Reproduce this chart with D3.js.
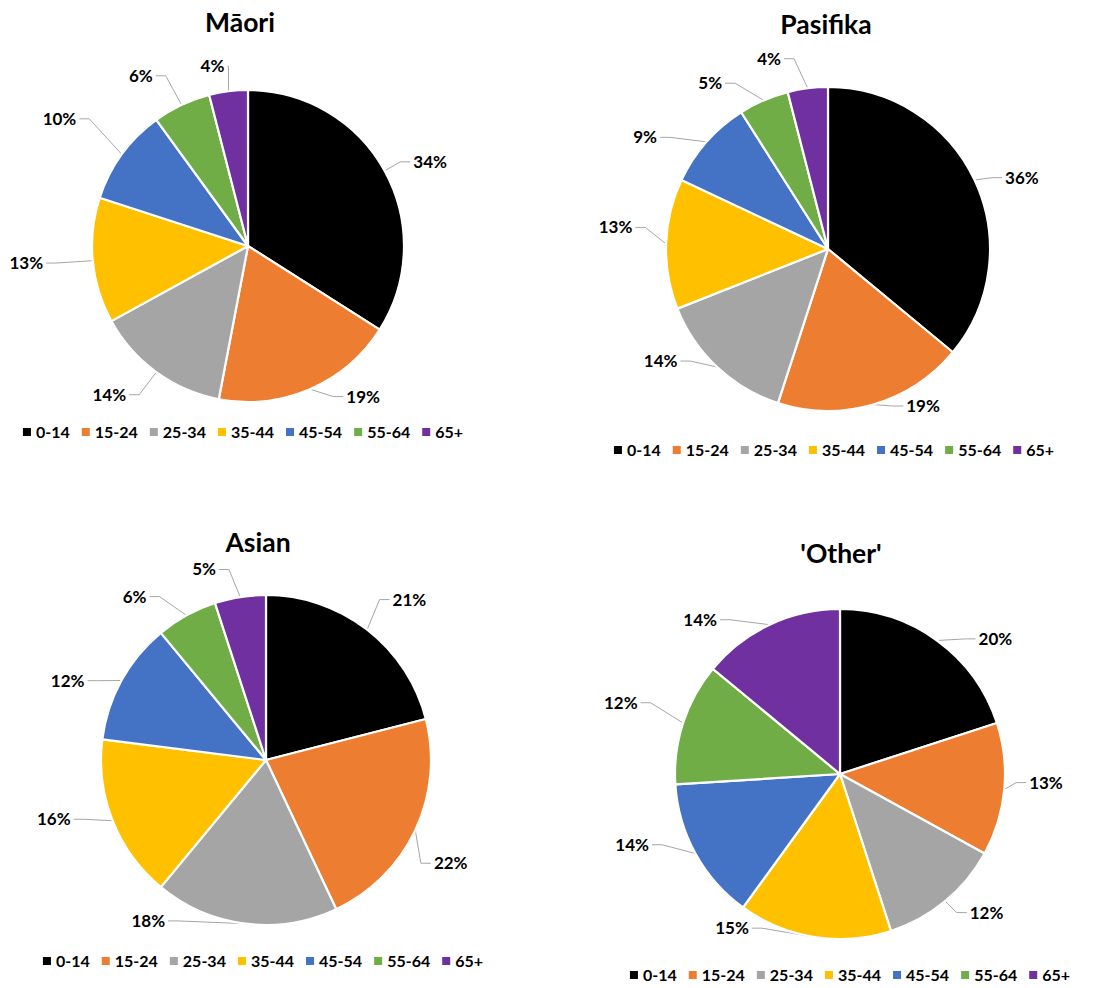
<!DOCTYPE html>
<html><head><meta charset="utf-8">
<script src="https://cdn.jsdelivr.net/npm/d3@7"></script>
<style>
body{margin:0;background:#fff}
svg{display:block}
text{font-family:Lato,"Open Sans",sans-serif;font-weight:700;fill:#000}
</style>
</head><body>
<svg id="chart" width="1106" height="988"></svg>
<script>
// ---- data ----
const ageGroups = ["0-14","15-24","25-34","35-44","45-54","55-64","65+"];
const ethnicities = ["Māori","Pasifika","Asian","'Other'"];
const maoriShares = [34,19,14,13,10,6,4];
const pasifikaShares = [36,19,14,13,9,5,4];
const asianShares = [21,22,18,16,12,6,5];
const otherShares = [20,13,12,15,14,12,14];
const seriesList = [maoriShares, pasifikaShares, asianShares, otherShares];

// ---- style / layout ----
const colours = ["#000000","#ED7D31","#A5A5A5","#FFC000","#4472C4","#70AD47","#7030A0"];
const panels = [
  {cx:248, cy:246, r:156, titleX:240, titleY:32, legendY:432, legendCx:243,
   nudge:[4,-14,7,1,-2,-7,-4], push:[0,-9,4,23,27,6,-9]},
  {cx:828, cy:249, r:162, titleX:826, titleY:34, legendY:450, legendCx:834,
   nudge:[5,-15,13,4,-10,-12,-10], push:[0,-20,-5,8,12,2,0]},
  {cx:266, cy:760, r:165, titleX:258, titleY:552, legendY:961, legendCx:263,
   nudge:[4,4,29,6,-7,-10,-9], push:[7,2,-8,11,4,5,-2]},
  {cx:840, cy:774, r:165, titleX:841, titleY:563, legendY:975, legendCx:850,
   nudge:[13,-3,-7,26,10,0,-17], push:[-3,-2,-7,-19,10,21,0]}
];

const svg = d3.select("#chart");
const colour = d3.scaleOrdinal().domain(ageGroups).range(colours);
const pie = d3.pie().sort(null).value(d => d.v);

seriesList.forEach((vals, pi) => {
  const P = panels[pi];
  const total = d3.sum(vals);
  const data = ageGroups.map((k, i) => ({k, v: vals[i], i}));
  const arcs = pie(data);
  const arc = d3.arc().innerRadius(0).outerRadius(P.r);
  const g = svg.append("g");

  g.append("text").attr("x", P.titleX).attr("y", P.titleY)
    .attr("text-anchor","middle").attr("font-size", 26.5).text(ethnicities[pi]);

  const pg = g.append("g").attr("transform", `translate(${P.cx},${P.cy})`);
  pg.selectAll("path").data(arcs).join("path")
    .attr("d", arc).attr("fill", d => colour(d.data.k))
    .attr("stroke", "#fff").attr("stroke-width", 2.2).attr("stroke-linejoin","round");

  // labels
  arcs.forEach((d, i) => {
    const mid = (d.startAngle + d.endAngle) / 2;
    const a = mid + P.nudge[i] * Math.PI / 180;
    const t = g.append("text").attr("font-size", 17).attr("text-anchor","middle")
      .attr("dy","0.35em").text(Math.round(d.data.v / total * 100) + "%");
    const w = t.node().getComputedTextLength();
    const hw = w / 2, hh = 8;
    const dist = P.r + 26 + P.push[i] + hw * Math.abs(Math.sin(a)) + hh * Math.abs(Math.cos(a));
    const lx = P.cx + dist * Math.sin(a), ly = P.cy - dist * Math.cos(a);
    t.attr("x", lx).attr("y", ly);
    const p0 = [P.cx + P.r * Math.sin(mid), P.cy - P.r * Math.cos(mid)];
    let p1, p2;
    if (lx < P.cx) {
      const edge = lx + hw;
      p2 = [edge + 3, ly];
      p1 = [Math.max(edge + 3, Math.min(edge + 13, p0[0])), ly];
    } else {
      const edge = lx - hw;
      p2 = [edge - 3, ly];
      p1 = [Math.min(edge - 3, Math.max(edge - 13, p0[0])), ly];
    }
    g.insert("path", "text").attr("d", d3.line()([p0, p1, p2]))
      .attr("fill","none").attr("stroke","#A6A6A6").attr("stroke-width",1);
  });

  // legend
  const lg = g.append("g");
  let x = 0;
  ageGroups.forEach((k, i) => {
    const it = lg.append("g").attr("transform", `translate(${x},0)`);
    it.append("rect").attr("x",0).attr("y",-4).attr("width",8).attr("height",8).attr("fill", colour(k));
    const tt = it.append("text").attr("x", 13).attr("y", 0).attr("dy","0.35em").attr("font-size",16).text(k);
    x += 13 + tt.node().getComputedTextLength() + 12;
  });
  const lw = x - 12;
  lg.attr("transform", `translate(${P.legendCx - lw/2},${P.legendY})`);
});
</script>
</body></html>
